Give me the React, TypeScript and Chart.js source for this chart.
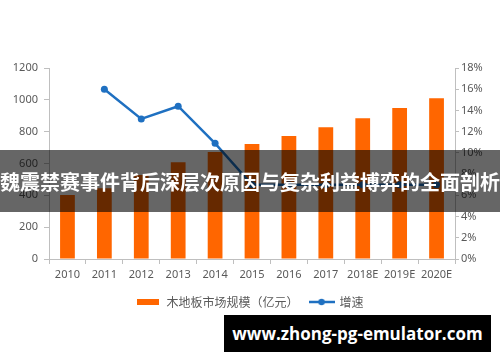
import React, { useEffect, useRef } from "react";
import { Chart, registerables } from "chart.js";

Chart.register(...registerables);

const categories = ["2010", "2011", "2012", "2013", "2014", "2015", "2016", "2017", "2018E", "2019E", "2020E"];
const marketSize = [402, 445, 528, 608, 672, 722, 772, 828, 884, 948, 1010];
const growthRate = [null, 16.0, 13.2, 14.4, 10.9, 7.0, 7.0, 7.0, 7.0, 7.0, 7.0];
const leftTicks = [0, 200, 400, 600, 800, 1000, 1200];
const rightTicks = [0, 2, 4, 6, 8, 10, 12, 14, 16, 18];
const barLabel = "木地板市场规模（亿元）";
const lineLabel = "增速";
const bannerText = "魏震禁赛事件背后深层次原因与复杂利益博弈的全面剖析";
const watermarkText = "www.zhong-pg-emulator.com";

const ORANGE = "#FF6600";
const BLUE = "#1F70C1";
const TEXT = "#595959";
const AXIS = "#BFBFBF";

function makeBarIcon(): HTMLCanvasElement {
  const c = document.createElement("canvas");
  c.width = 22;
  c.height = 6;
  const ctx = c.getContext("2d")!;
  ctx.fillStyle = ORANGE;
  ctx.fillRect(0, 0, 22, 6);
  return c;
}

function makeLineIcon(): HTMLCanvasElement {
  const c = document.createElement("canvas");
  c.width = 26;
  c.height = 8;
  const ctx = c.getContext("2d")!;
  ctx.strokeStyle = BLUE;
  ctx.lineWidth = 2.5;
  ctx.beginPath();
  ctx.moveTo(0, 4);
  ctx.lineTo(26, 4);
  ctx.stroke();
  ctx.fillStyle = BLUE;
  ctx.beginPath();
  ctx.arc(13, 4, 3.2, 0, Math.PI * 2);
  ctx.fill();
  return c;
}

export default function App() {
  const ref = useRef<HTMLCanvasElement | null>(null);

  useEffect(() => {
    document.body.style.margin = "0";
    if (!ref.current) return;
    const barIcon = makeBarIcon();
    const lineIcon = makeLineIcon();
    const font = { family: "'Noto Sans', 'Noto Sans CJK SC', sans-serif", size: 11 };
    const legendFont = { family: "'Noto Sans CJK SC', sans-serif", size: 12 };
    const chart = new Chart(ref.current, {
      data: {
        labels: categories,
        datasets: [
          {
            type: "line",
            label: lineLabel,
            data: growthRate as any,
            yAxisID: "y1",
            borderColor: BLUE,
            backgroundColor: BLUE,
            borderWidth: 2.5,
            pointRadius: 3.5,
            pointBackgroundColor: BLUE,
            pointBorderWidth: 0,
            tension: 0,
            order: 0,
          },
          {
            type: "bar",
            label: barLabel,
            data: marketSize,
            yAxisID: "y",
            backgroundColor: ORANGE,
            barPercentage: 0.4,
            categoryPercentage: 1,
            order: 1,
          },
        ],
      },
      options: {
        animation: false,
        responsive: false,
        maintainAspectRatio: false,
        layout: { padding: { top: 68, left: 0, right: 0, bottom: 44 } },
        plugins: {
          tooltip: { enabled: false },
          legend: {
            position: "bottom",
            labels: {
              usePointStyle: true,
              pointStyleWidth: 24,
              padding: 11,
              color: TEXT,
              font: legendFont,
              generateLabels: () => [
                { text: barLabel, pointStyle: barIcon as any, fontColor: TEXT, datasetIndex: 1, lineWidth: 0, strokeStyle: "transparent", fillStyle: ORANGE },
                { text: lineLabel, pointStyle: lineIcon as any, fontColor: TEXT, datasetIndex: 0, lineWidth: 0, strokeStyle: "transparent", fillStyle: BLUE },
              ],
            },
          },
        },
        scales: {
          x: {
            offset: true,
            grid: { display: true, drawOnChartArea: false, drawTicks: true, tickLength: 5, color: AXIS, offset: true },
            border: { display: true, color: AXIS },
            ticks: { color: TEXT, font, padding: 4, maxRotation: 0, autoSkip: false },
            afterFit: (s: any) => { s.height = 26; },
          },
          y: {
            position: "left",
            min: 0,
            max: 1200,
            afterBuildTicks: (s: any) => { s.ticks = leftTicks.map((v) => ({ value: v })); },
            grid: { display: true, drawOnChartArea: false, drawTicks: true, tickLength: 5, color: AXIS },
            border: { display: true, color: AXIS },
            ticks: { color: TEXT, font, padding: 6, callback: (v: any) => String(v) },
            afterFit: (s: any) => { s.width = 49; },
          },
          y1: {
            position: "right",
            min: 0,
            max: 18,
            afterBuildTicks: (s: any) => { s.ticks = rightTicks.map((v) => ({ value: v })); },
            grid: { display: true, drawOnChartArea: false, drawTicks: true, tickLength: 4, color: AXIS },
            border: { display: true, color: AXIS },
            ticks: { color: TEXT, font, padding: 2, callback: (v: any) => v + "%" },
            afterFit: (s: any) => { s.width = 45; },
          },
        },
      },
    } as any);
    return () => chart.destroy();
  }, []);

  return (
    <div style={{ position: "relative", width: 500, height: 362, overflow: "hidden", background: "#fff" }}>
      <canvas ref={ref} width={500} height={362} style={{ display: "block", width: 500, height: 362 }} />
      <div
        style={{
          position: "absolute",
          left: 0,
          top: 150,
          width: 500,
          height: 62,
          background: "rgba(0,0,0,0.6)",
          color: "#fff",
          fontFamily: "'Noto Sans CJK SC', sans-serif",
          fontWeight: 700,
          fontSize: 20,
          whiteSpace: "nowrap",
          display: "flex",
          justifyContent: "center",
          alignItems: "center",
          overflow: "hidden",
        }}
      >
        <span style={{ flex: "none" }}>{bannerText}</span>
      </div>
      <div
        style={{
          position: "absolute",
          left: 224,
          top: 315,
          width: 267,
          height: 37,
          background: "#000",
          color: "#fff",
          fontFamily: "'Open Sans', sans-serif",
          fontWeight: 700,
          fontSize: 17,
          display: "flex",
          justifyContent: "center",
          alignItems: "center",
          whiteSpace: "nowrap",
        }}
      >
        {watermarkText}
      </div>
    </div>
  );
}
